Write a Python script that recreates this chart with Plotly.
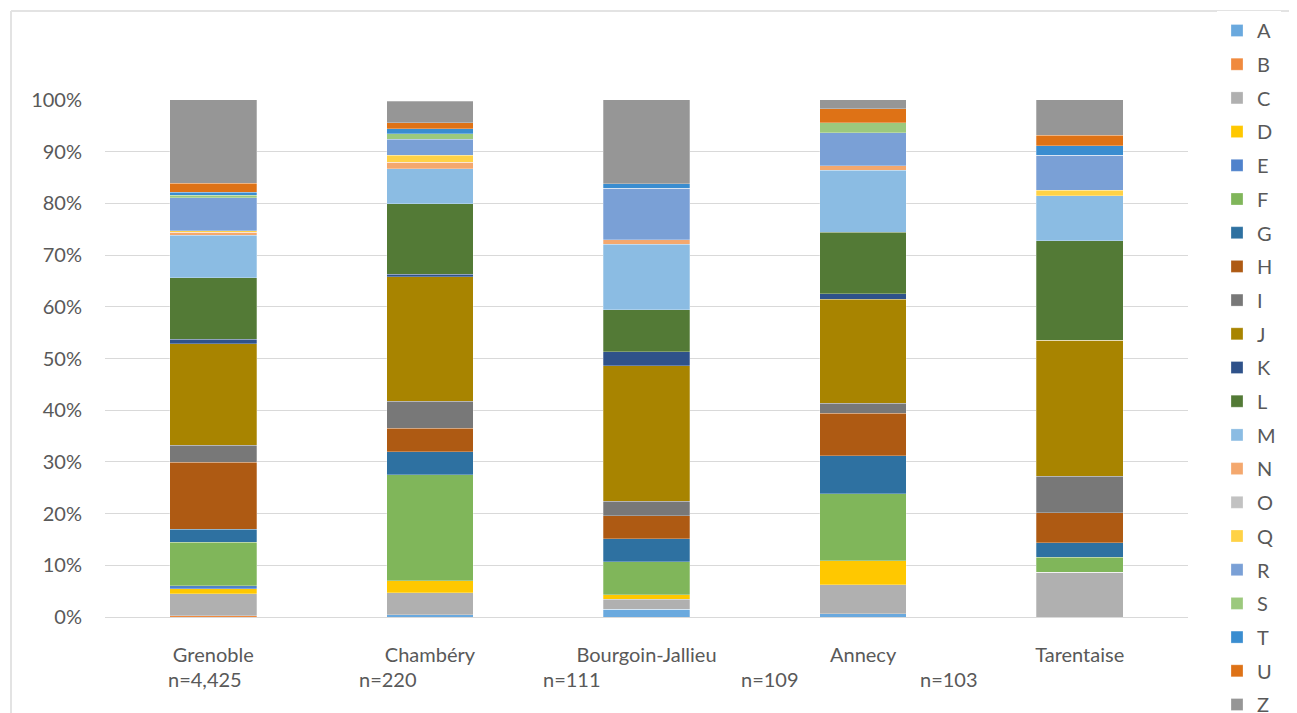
import plotly.graph_objects as go

sites = ["Grenoble", "Chambéry", "Bourgoin-Jallieu", "Annecy", "Tarentaise"]
sample_sizes = ["n=4,425", "n=220", "n=111", "n=109", "n=103"]

# share (%) of each category per site, bottom to top of the stack
categories = ["A", "B", "C", "D", "E", "F", "G", "H", "I", "J", "K",
              "L", "M", "N", "O", "Q", "R", "S", "T", "U", "Z"]
shares = {
    "A": [0.0, 0.4, 1.5, 0.6, 0.0],
    "B": [0.2, 0.0, 0.0, 0.0, 0.0],
    "C": [4.3, 4.3, 1.9, 5.6, 8.7],
    "D": [1.0, 2.3, 0.9, 4.7, 0.0],
    "E": [0.5, 0.0, 0.0, 0.0, 0.0],
    "F": [8.5, 20.5, 6.4, 12.9, 2.9],
    "G": [2.5, 4.5, 4.4, 7.4, 2.8],
    "H": [12.9, 4.5, 4.5, 8.2, 5.8],
    "I": [3.3, 5.2, 2.8, 1.9, 7.0],
    "J": [19.7, 24.1, 26.2, 20.2, 26.3],
    "K": [0.8, 0.5, 2.7, 1.0, 0.0],
    "L": [11.9, 13.6, 8.1, 11.9, 19.3],
    "M": [8.2, 6.8, 12.7, 12.0, 8.7],
    "N": [0.6, 1.3, 0.9, 0.9, 0.0],
    "O": [0.0, 0.0, 0.0, 0.0, 0.0],
    "Q": [0.3, 1.3, 0.0, 0.0, 1.0],
    "R": [6.4, 3.1, 9.9, 6.4, 6.8],
    "S": [0.5, 1.1, 0.0, 1.9, 0.0],
    "T": [0.6, 0.9, 0.9, 0.0, 1.9],
    "U": [1.7, 1.2, 0.0, 2.7, 2.0],
    "Z": [16.3, 4.2, 16.4, 1.9, 6.9],
}

colors = {
    "A": "#6AA9DE", "B": "#F08A3E", "C": "#B0B0B0", "D": "#FFC800",
    "E": "#4F82CC", "F": "#80B65A", "G": "#2E71A1", "H": "#AE5A13",
    "I": "#787878", "J": "#A88400", "K": "#2F528A", "L": "#537A36",
    "M": "#8BBCE3", "N": "#F4A86E", "O": "#C2C2C2", "Q": "#FFD246",
    "R": "#7AA0D6", "S": "#9CC97D", "T": "#3A8DD0", "U": "#DE7216",
    "Z": "#969696",
}

FONT = "Lato, 'Open Sans', sans-serif"
TXT = "#595959"

# the page body adds an 8px offset, so the figure is drawn 8px smaller
W, H = 1289, 705
plot_l, plot_r, plot_t, plot_b = 97, 1180, 92, 609


def px_x(p):
    return (p - plot_l) / (plot_r - plot_l)


def px_y(p):
    return (plot_b - p) / (plot_b - plot_t)


fig = go.Figure()
for cat in categories:
    fig.add_trace(go.Bar(
        x=sites, y=[v / 100 for v in shares[cat]], name=cat,
        legendgroup=cat,
        marker=dict(color=colors[cat],
                    line=dict(color="rgba(255,255,255,0.45)", width=0.6)),
    ))

# n= labels under the category names (placed like the text box in the original)
n_left_px = [158, 349, 533, 731, 910]
for txt, px in zip(sample_sizes, n_left_px):
    fig.add_annotation(
        x=px_x(px), y=px_y(671), xref="paper", yref="paper",
        text=txt, showarrow=False, xanchor="left", yanchor="middle",
        font=dict(family=FONT, size=20, color=TXT),
    )

# light chart frame (top and left edges)
fig.add_shape(type="line", xref="paper", yref="paper",
              x0=px_x(3), x1=px_x(W + 20), y0=px_y(3), y1=px_y(3),
              line=dict(color="#E3E3E3", width=2))
fig.add_shape(type="line", xref="paper", yref="paper",
              x0=px_x(3), x1=px_x(3), y0=px_y(3), y1=px_y(H + 20),
              line=dict(color="#E3E3E3", width=2))

fig.update_layout(
    width=W, height=H,
    margin=dict(l=plot_l, r=W - plot_r, t=plot_t, b=H - plot_b,
                autoexpand=False),
    barmode="stack", bargap=0.6,
    paper_bgcolor="white", plot_bgcolor="white",
    font=dict(family=FONT, size=20, color=TXT),
    legend=dict(
        x=px_x(1209), xanchor="left",
        y=px_y(3), yanchor="top",
        traceorder="grouped", tracegroupgap=4.7,
        font=dict(family=FONT, size=20, color=TXT),
        maxheight=1000,
    ),
    showlegend=True,
)
fig.update_yaxes(
    range=[0, 1], tickformat=".0%", dtick=0.1,
    showgrid=True, gridcolor="#D9D9D9", gridwidth=1,
    zeroline=False, ticklabelstandoff=22,
)
fig.update_xaxes(
    showline=True, linecolor="#D9D9D9", linewidth=1,
    ticks="", ticklabelstandoff=20,
)

fig.write_html("out.html")
